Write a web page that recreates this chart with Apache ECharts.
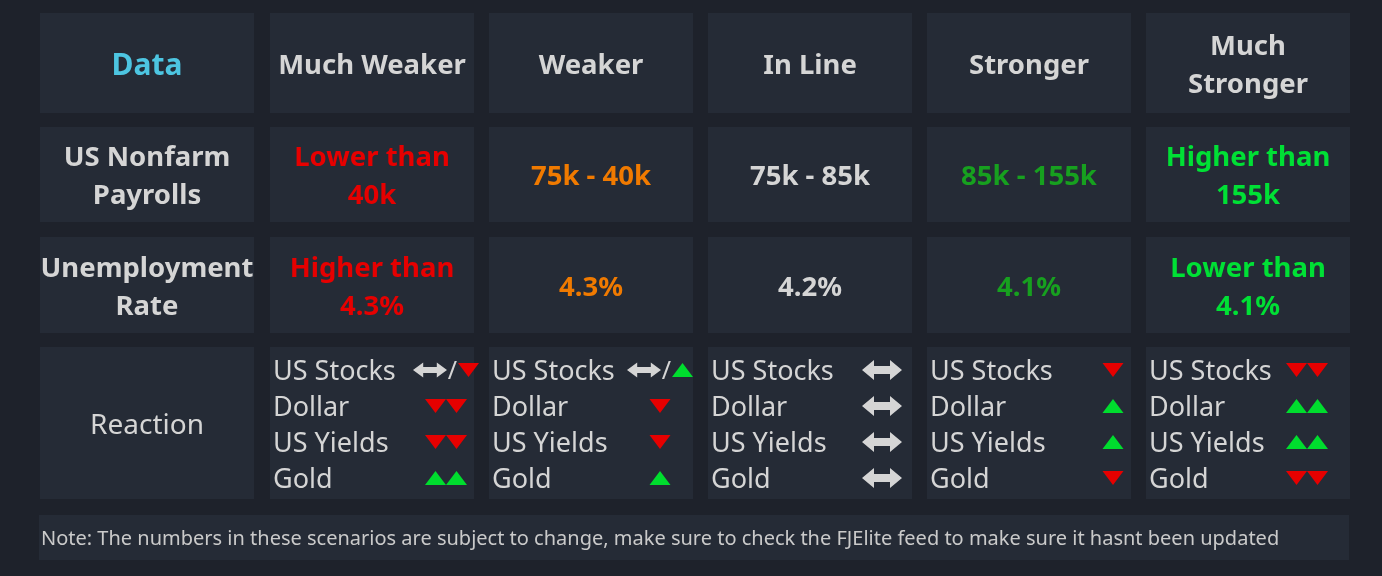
<!DOCTYPE html>
<html>
<head>
<meta charset="utf-8">
<title>NFP scenarios</title>
<script src="https://cdn.jsdelivr.net/npm/echarts@6.0.0/dist/echarts.min.js"></script>
<style>
  html, body { margin: 0; padding: 0; background: #1e222b; }
  #chart { width: 1382px; height: 576px; }
</style>
</head>
<body>
<div id="chart"></div>
<script>
// table content
const columns = ['Data', 'Much Weaker', 'Weaker', 'In Line', 'Stronger', 'Much Stronger'];
const headerLabels = ['Data', 'Much Weaker', 'Weaker', 'In Line', 'Stronger', 'Much\nStronger'];
const payrolls = ['US Nonfarm\nPayrolls', 'Lower than\n40k', '75k - 40k', '75k - 85k', '85k - 155k', 'Higher than\n155k'];
const unemployment = ['Unemployment\nRate', 'Higher than\n4.3%', '4.3%', '4.2%', '4.1%', 'Lower than\n4.1%'];
const reactionLabel = 'Reaction';
const assets = ['US Stocks', 'Dollar', 'US Yields', 'Gold'];
// per scenario: one entry per asset (flat = sideways arrow)
const reactions = [
  null,
  [['flat', '/', 'down'], ['down', 'down'], ['down', 'down'], ['up', 'up']],
  [['flat', '/', 'up'], ['down'], ['down'], ['up']],
  [['flat'], ['flat'], ['flat'], ['flat']],
  [['down'], ['up'], ['up'], ['down']],
  [['down', 'down'], ['up', 'up'], ['up', 'up'], ['down', 'down']]
];
const noteText = 'Note: The numbers in these scenarios are subject to change, make sure to check the FJElite feed to make sure it hasnt been updated';

// styles
const FONT = '"Noto Sans", "Open Sans", sans-serif';
const CELL_BG = '#252b36';
const TEXT = '#d5d5d5';
const RED = '#e60000';
const GREEN = '#00dd2e';
const headerColors = ['#4dc5e1', TEXT, TEXT, TEXT, TEXT, TEXT];
const valueColors = [TEXT, RED, '#f07a00', TEXT, '#17a01f', '#00e035'];
const GAP = 15;
const TEXT_DY = 3;
const symbolShift = [0, 74, 69, 72, 84, 59]; // symbol block centre, from cell centre

// row bands (top, height)
const rows = [
  { top: 13, height: 100 },
  { top: 127, height: 95 },
  { top: 237, height: 96 },
  { top: 347, height: 152 },
  { top: 515, height: 45 }
];

const chart = echarts.init(document.getElementById('chart'));

function cellBox(j, c, bw, bh) {
  let w = bw - GAP;
  let x = c[0] - w / 2;
  if (j === 0) { x -= 11; w += 10; }
  return { x: x, y: c[1] - bh / 2, width: w, height: bh };
}

function textRow(labels, colors, size0, size) {
  return function (params, api) {
    const j = api.value(0);
    const c = api.coord([j, 0]);
    const cell = cellBox(j, c, api.size([1, 0])[0], api.size([0, 1])[1]);
    return {
      type: 'group',
      children: [
        { type: 'rect', shape: cell, style: { fill: CELL_BG } },
        {
          type: 'text',
          style: {
            text: labels[j], x: cell.x + cell.width / 2, y: c[1] + TEXT_DY,
            align: 'center', verticalAlign: 'middle',
            fontFamily: FONT, fontWeight: 700, fontSize: j === 0 ? size0 : size,
            lineHeight: 38, fill: colors[j]
          }
        }
      ]
    };
  };
}

function symbolWidth(kind, big) {
  if (kind === 'flat') return big ? 40 : 34;
  if (kind === '/') return 11;
  return 21;
}

function drawSymbols(items, cx, cy) {
  const big = items.length === 1;
  const total = items.reduce((s, k) => s + symbolWidth(k, big), 0);
  let x = cx - total / 2;
  const out = [];
  items.forEach(function (k) {
    const w = symbolWidth(k, big);
    if (k === 'down') {
      out.push({ type: 'polygon', shape: { points: [[x, cy - 7], [x + w, cy - 7], [x + w / 2, cy + 7]] }, style: { fill: RED } });
    } else if (k === 'up') {
      out.push({ type: 'polygon', shape: { points: [[x, cy + 7], [x + w, cy + 7], [x + w / 2, cy - 7]] }, style: { fill: GREEN } });
    } else if (k === '/') {
      out.push({ type: 'text', style: { text: '/', x: x + w / 2, y: cy + 2, align: 'center', verticalAlign: 'middle', fontFamily: FONT, fontSize: 25, fill: TEXT } });
    } else {
      const h = big ? 20 : 15;
      const hw = w * 0.3;
      const t = h * 0.3;
      out.push({
        type: 'polygon',
        shape: {
          points: [
            [x, cy], [x + hw, cy - h / 2], [x + hw, cy - h / 2 + t], [x + w - hw, cy - h / 2 + t],
            [x + w - hw, cy - h / 2], [x + w, cy], [x + w - hw, cy + h / 2], [x + w - hw, cy + h / 2 - t],
            [x + hw, cy + h / 2 - t], [x + hw, cy + h / 2]
          ]
        },
        style: { fill: TEXT }
      });
    }
    x += w;
  });
  return out;
}

function reactionRow(params, api) {
  const j = api.value(0);
  const c = api.coord([j, 0]);
  const cell = cellBox(j, c, api.size([1, 0])[0], api.size([0, 1])[1]);
  const children = [{ type: 'rect', shape: cell, style: { fill: CELL_BG } }];
  if (j === 0) {
    children.push({
      type: 'text',
      style: { text: reactionLabel, x: cell.x + cell.width / 2, y: c[1] + TEXT_DY, align: 'center', verticalAlign: 'middle', fontFamily: FONT, fontSize: 28, fill: TEXT }
    });
  } else {
    assets.forEach(function (name, k) {
      const cy = c[1] + 1 + (k - 1.5) * 36;
      children.push({
        type: 'text',
        style: { text: name, x: cell.x + 3, y: cy + 2, align: 'left', verticalAlign: 'middle', fontFamily: FONT, fontSize: 27, fill: TEXT }
      });
      drawSymbols(reactions[j][k], c[0] + symbolShift[j], cy).forEach(e => children.push(e));
    });
  }
  return { type: 'group', children: children };
}

function noteRow(params, api) {
  const c = api.coord([0, 0]);
  const w = api.size([1, 0])[0];
  const h = api.size([0, 1])[1];
  return {
    type: 'group',
    children: [
      { type: 'rect', shape: { x: c[0] - w / 2, y: c[1] - h / 2, width: w, height: h }, style: { fill: CELL_BG } },
      { type: 'text', style: { text: noteText, x: c[0] - w / 2 + 2, y: c[1] + 2, align: 'left', verticalAlign: 'middle', fontFamily: FONT, fontSize: 20, fill: '#cacaca' } }
    ]
  };
}

const grids = rows.map(function (r, i) {
  return i < 4
    ? { left: 43.5, right: 24.5, top: r.top, height: r.height }
    : { left: 39, right: 33, top: r.top, height: r.height };
});
const xAxes = rows.map((r, i) => ({ type: 'category', gridIndex: i, data: i < 4 ? columns : ['Note'], show: false }));
const yAxes = rows.map((r, i) => ({ type: 'category', gridIndex: i, data: ['row' + i], show: false }));

const cellData = columns.map((c, j) => [j, 0]);
const renderers = [
  textRow(headerLabels, headerColors, 30, 27.5),
  textRow(payrolls, valueColors, 27.5, 27.5),
  textRow(unemployment, valueColors, 27.5, 27.5),
  reactionRow,
  noteRow
];

chart.setOption({
  backgroundColor: '#1e222b',
  animation: false,
  grid: grids,
  xAxis: xAxes,
  yAxis: yAxes,
  series: renderers.map(function (fn, i) {
    return {
      type: 'custom',
      xAxisIndex: i,
      yAxisIndex: i,
      clip: false,
      silent: true,
      renderItem: fn,
      data: i < 4 ? cellData : [[0, 0]]
    };
  })
});
</script>
</body>
</html>
